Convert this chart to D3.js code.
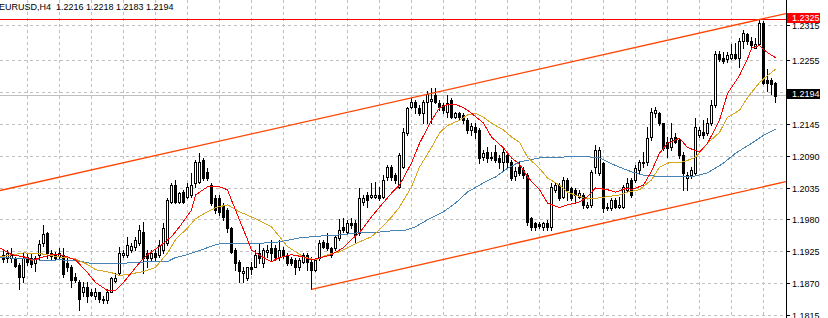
<!DOCTYPE html>
<html>
<head>
<meta charset="utf-8">
<script src="https://cdn.jsdelivr.net/npm/d3@7"></script>
<style>
  body { margin: 0; background: #fff; }
  svg { display: block; font-family: "Liberation Sans", Arial, sans-serif; }
</style>
</head>
<body>
<svg id="chart" width="828" height="318"></svg>
<script>
// EURUSD H4 bars (oldest first)
const opens = [
  1.1920,1.1915,1.1915,1.1913,1.1903,1.1882,1.1916,1.1915,1.1906,1.1920,
  1.1940,1.1958,1.1918,1.1920,1.1918,1.1920,1.1906,1.1899,1.1882,1.1872,
  1.1856,1.1865,1.1855,1.1848,1.1855,1.1844,1.1841,1.1856,1.1875,1.1889,
  1.1920,1.1920,1.1928,1.1934,1.1940,1.1959,1.1923,1.1915,1.1923,1.1920,
  1.1928,1.1940,1.2011,1.2040,1.2011,1.2028,1.2020,1.2023,1.2044,1.2045,
  1.2083,1.2063,1.2040,1.2018,1.2018,1.2006,1.1997,1.1966,1.1928,1.1908,
  1.1889,1.1880,1.1899,1.1899,1.1923,1.1906,1.1925,1.1932,1.1932,1.1916,
  1.1928,1.1920,1.1913,1.1911,1.1898,1.1908,1.1920,1.1908,1.1894,1.1915,
  1.1942,1.1940,1.1932,1.1932,1.1949,1.1968,1.1959,1.1975,1.1975,1.1958,
  1.2011,1.2023,1.2020,1.2020,1.2023,1.2020,1.2054,1.2071,1.2057,1.2037,
  1.2071,1.2130,1.2174,1.2183,1.2173,1.2164,1.2183,1.2185,1.2195,1.2181,
  1.2178,1.2166,1.2186,1.2157,1.2164,1.2161,1.2152,1.2135,1.2140,1.2135,
  1.2088,1.2097,1.2087,1.2097,1.2087,1.2080,1.2092,1.2080,1.2056,1.2071,
  1.2066,1.2057,1.1983,1.1975,1.1973,1.1968,1.1975,1.1968,1.2032,1.2040,
  1.2020,1.2049,1.2035,1.2032,1.2020,1.2023,1.2002,1.2006,1.2071,1.2061,
  1.2078,1.2001,1.2001,1.2014,1.2002,1.2002,1.2032,1.2049,1.2049,1.2066,
  1.2078,1.2080,1.2123,1.2164,1.2164,1.2147,1.2114,1.2105,1.2123,1.2118,
  1.2092,1.2052,1.2057,1.2061,1.2126,1.2131,1.2130,1.2147,1.2178,1.2267,
  1.2260,1.2258,1.2260,1.2267,1.2260,1.2289,1.2301,1.2289,1.2277,1.2284,
  1.2320,1.2221,1.2221,1.2216
];
const highs = [
  1.1928,1.1928,1.1932,1.1916,1.1906,1.1923,1.1922,1.1923,1.1918,1.1946,
  1.1971,1.1959,1.1928,1.1925,1.1932,1.1932,1.1915,1.1903,1.1889,1.1877,
  1.1872,1.1872,1.1860,1.1863,1.1856,1.1848,1.1860,1.1882,1.1889,1.1934,
  1.1928,1.1951,1.1940,1.1951,1.1971,1.1977,1.1928,1.1928,1.1928,1.1946,
  1.1975,1.2018,1.2044,1.2049,1.2028,1.2032,1.2044,1.2061,1.2083,1.2095,
  1.2087,1.2069,1.2044,1.2023,1.2023,1.2009,1.2001,1.1968,1.1932,1.1911,
  1.1898,1.1899,1.1908,1.1928,1.1940,1.1932,1.1937,1.1946,1.1937,1.1946,
  1.1934,1.1923,1.1916,1.1915,1.1915,1.1923,1.1923,1.1916,1.1915,1.1946,
  1.1946,1.1958,1.1934,1.1954,1.1982,1.1983,1.1980,1.1983,1.1980,1.2035,
  1.2023,1.2028,1.2044,1.2045,1.2037,1.2057,1.2075,1.2075,1.2061,1.2095,
  1.2138,1.2174,1.2190,1.2186,1.2178,1.2186,1.2203,1.2207,1.2207,1.2186,
  1.2181,1.2195,1.2190,1.2166,1.2166,1.2164,1.2155,1.2147,1.2147,1.2138,
  1.2100,1.2105,1.2097,1.2109,1.2092,1.2104,1.2097,1.2083,1.2071,1.2080,
  1.2071,1.2061,1.1985,1.1977,1.1977,1.1977,1.1980,1.2044,1.2044,1.2044,
  1.2054,1.2052,1.2037,1.2035,1.2032,1.2026,1.2011,1.2066,1.2109,1.2105,
  1.2080,1.2009,1.2018,1.2018,1.2020,1.2040,1.2052,1.2052,1.2075,1.2083,
  1.2097,1.2140,1.2173,1.2174,1.2166,1.2148,1.2123,1.2147,1.2130,1.2121,
  1.2097,1.2063,1.2071,1.2155,1.2140,1.2152,1.2155,1.2186,1.2272,1.2272,
  1.2269,1.2269,1.2284,1.2286,1.2293,1.2307,1.2303,1.2295,1.2293,1.2325,
  1.2324,1.2241,1.2224,1.2218
];
const lows = [
  1.1908,1.1908,1.1908,1.1898,1.1860,1.1872,1.1903,1.1899,1.1891,1.1911,
  1.1935,1.1915,1.1911,1.1910,1.1915,1.1882,1.1891,1.1865,1.1872,1.1824,
  1.1848,1.1839,1.1848,1.1843,1.1839,1.1837,1.1837,1.1855,1.1873,1.1886,
  1.1916,1.1916,1.1925,1.1928,1.1937,1.1889,1.1899,1.1911,1.1911,1.1916,
  1.1923,1.1937,1.2009,1.2009,1.2009,1.2009,1.2018,1.2020,1.2037,1.2044,
  1.2049,1.2049,1.2006,1.1992,1.1989,1.1980,1.1959,1.1923,1.1894,1.1873,
  1.1872,1.1877,1.1886,1.1898,1.1906,1.1899,1.1916,1.1911,1.1911,1.1911,
  1.1915,1.1903,1.1903,1.1886,1.1894,1.1906,1.1894,1.1860,1.1891,1.1911,
  1.1932,1.1928,1.1916,1.1928,1.1946,1.1959,1.1958,1.1966,1.1940,1.1954,
  1.2006,1.2002,1.2018,1.2018,1.2014,1.2018,1.2049,1.2049,1.2044,1.2035,
  1.2069,1.2126,1.2173,1.2164,1.2161,1.2148,1.2147,1.2147,1.2181,1.2169,
  1.2164,1.2157,1.2155,1.2155,1.2152,1.2147,1.2130,1.2126,1.2121,1.2078,
  1.2083,1.2080,1.2083,1.2080,1.2069,1.2066,1.2071,1.2049,1.2049,1.2057,
  1.2052,1.1971,1.1963,1.1963,1.1966,1.1963,1.1963,1.1963,1.2028,1.2014,
  1.2018,1.2014,1.2014,1.2009,1.2018,1.2001,1.2001,1.2002,1.2061,1.2057,
  1.1994,1.1997,1.1997,1.2001,1.2001,1.2001,1.2028,1.2020,1.2045,1.2061,
  1.2071,1.2075,1.2118,1.2157,1.2143,1.2100,1.2088,1.2100,1.2112,1.2087,
  1.2032,1.2032,1.2052,1.2057,1.2123,1.2121,1.2126,1.2143,1.2174,1.2255,
  1.2250,1.2252,1.2258,1.2258,1.2243,1.2276,1.2284,1.2277,1.2276,1.2281,
  1.2215,1.2203,1.2198,1.2183
];
const closes = [
  1.1913,1.1922,1.1920,1.1901,1.1882,1.1915,1.1908,1.1904,1.1915,1.1939,
  1.1956,1.1923,1.1922,1.1915,1.1923,1.1886,1.1899,1.1877,1.1877,1.1843,
  1.1865,1.1848,1.1851,1.1855,1.1843,1.1841,1.1856,1.1879,1.1880,1.1923,
  1.1923,1.1937,1.1935,1.1946,1.1963,1.1915,1.1915,1.1923,1.1916,1.1937,
  1.1966,1.2014,1.2040,1.2011,1.2026,1.2011,1.2037,1.2040,1.2080,1.2080,
  1.2052,1.2052,1.2009,1.1997,1.1994,1.1985,1.1966,1.1925,1.1906,1.1891,
  1.1892,1.1898,1.1896,1.1920,1.1915,1.1928,1.1928,1.1923,1.1916,1.1928,
  1.1920,1.1906,1.1906,1.1898,1.1911,1.1920,1.1908,1.1894,1.1911,1.1940,
  1.1934,1.1932,1.1920,1.1951,1.1963,1.1963,1.1975,1.1971,1.1954,1.2018,
  1.2018,1.2014,1.2023,1.2023,1.2018,1.2049,1.2071,1.2054,1.2049,1.2092,
  1.2131,1.2173,1.2183,1.2174,1.2164,1.2183,1.2198,1.2188,1.2183,1.2174,
  1.2169,1.2181,1.2157,1.2164,1.2157,1.2152,1.2135,1.2142,1.2131,1.2087,
  1.2095,1.2087,1.2088,1.2083,1.2080,1.2097,1.2080,1.2052,1.2064,1.2061,
  1.2057,1.1977,1.1968,1.1968,1.1970,1.1975,1.1968,1.2037,1.2040,1.2018,
  1.2049,1.2032,1.2018,1.2023,1.2026,1.2006,1.2006,1.2063,1.2100,1.2100,
  1.2001,1.2002,1.2014,1.2002,1.2006,1.2037,1.2044,1.2023,1.2069,1.2080,
  1.2080,1.2121,1.2166,1.2169,1.2147,1.2104,1.2104,1.2121,1.2114,1.2092,
  1.2061,1.2057,1.2066,1.2140,1.2135,1.2126,1.2148,1.2178,1.2267,1.2258,
  1.2255,1.2264,1.2267,1.2260,1.2289,1.2303,1.2289,1.2281,1.2284,1.2320,
  1.2217,1.2217,1.2215,1.2194
];

// moving averages as drawn on the chart: [bar, price]
const maFast = [
  [-1,1.1932],[2,1.1920],[6,1.1915],[7,1.1910],[10,1.1916],[12,1.1920],[14,1.1920],
  [16,1.1916],[18,1.1911],[21,1.1889],[23,1.1872],[26,1.1858],[28,1.1858],[30,1.1872],
  [32,1.1889],[34,1.1906],[36,1.1920],[39,1.1934],[42,1.1951],[44,1.1968],[47,1.1997],
  [48,1.2023],[51,1.2037],[52,1.2038],[54,1.2037],[56,1.2032],[57,1.2014],[59,1.1980],
  [61,1.1946],[62,1.1928],[65,1.1915],[67,1.1908],[69,1.1915],[72,1.1920],[75,1.1916],
  [77,1.1911],[80,1.1916],[82,1.1920],[85,1.1932],[87,1.1946],[89,1.1958],[92,1.1985],
  [94,1.2002],[97,1.2026],[99,1.2040],[102,1.2078],[104,1.2112],[107,1.2152],[109,1.2173],
  [111,1.2179],[113,1.2179],[115,1.2174],[117,1.2164],[120,1.2147],[122,1.2123],[125,1.2104],
  [127,1.2087],[129,1.2076],[131,1.2054],[134,1.2032],[136,1.2009],[139,1.2001],[141,1.2006],
  [144,1.2011],[146,1.2020],[148,1.2035],[151,1.2032],[153,1.2028],[156,1.2035],[157,1.2032],
  [160,1.2040],[162,1.2064],[164,1.2095],[166,1.2112],[169,1.2121],[171,1.2105],[174,1.2097],
  [176,1.2112],[179,1.2152],[181,1.2198],[184,1.2229],[186,1.2258],[187,1.2276],[189,1.2281],
  [190,1.2274],[192,1.2264],[193,1.2260]
];
const maMid = [
  [-1,1.1916],[5,1.1923],[9,1.1922],[14,1.1916],[18,1.1913],[21,1.1903],[23,1.1894],
  [27,1.1889],[29,1.1884],[32,1.1887],[35,1.1891],[38,1.1898],[41,1.1923],[43,1.1946],
  [46,1.1966],[48,1.1982],[51,1.1994],[53,1.2001],[56,1.2006],[57,1.2002],[59,1.1994],
  [62,1.1985],[65,1.1975],[67,1.1968],[69,1.1951],[71,1.1934],[75,1.1916],[78,1.1911],
  [81,1.1920],[84,1.1925],[86,1.1932],[89,1.1942],[92,1.1951],[94,1.1963],[97,1.1985],
  [99,1.2002],[102,1.2037],[104,1.2071],[107,1.2105],[109,1.2130],[111,1.2143],[114,1.2152],
  [116,1.2161],[118,1.2164],[120,1.2157],[122,1.2147],[125,1.2135],[127,1.2123],[129,1.2114],
  [131,1.2088],[134,1.2069],[136,1.2052],[139,1.2040],[141,1.2028],[144,1.2020],[146,1.2016],
  [149,1.2018],[151,1.2020],[154,1.2023],[156,1.2028],[159,1.2032],[162,1.2049],[164,1.2071],
  [166,1.2078],[170,1.2080],[173,1.2088],[176,1.2112],[179,1.2131],[181,1.2157],[184,1.2169],
  [186,1.2191],[189,1.2217],[191,1.2229],[193,1.2240]
];
const maSlow = [
  [-1,1.1915],[6,1.1913],[10,1.1910],[14,1.1911],[18,1.1910],[21,1.1906],[23,1.1904],
  [27,1.1904],[32,1.1906],[37,1.1908],[41,1.1908],[43,1.1915],[46,1.1920],[48,1.1925],
  [51,1.1932],[53,1.1937],[55,1.1940],[58,1.1940],[62,1.1939],[65,1.1940],[69,1.1942],
  [74,1.1949],[79,1.1952],[84,1.1954],[89,1.1958],[94,1.1959],[97,1.1961],[100,1.1961],
  [103,1.1968],[106,1.1980],[110,1.1994],[113,1.2009],[116,1.2028],[120,1.2044],[123,1.2054],
  [126,1.2069],[129,1.2080],[134,1.2087],[139,1.2088],[144,1.2090],[149,1.2087],[151,1.2080],
  [154,1.2071],[157,1.2063],[160,1.2057],[162,1.2056],[167,1.2054],[172,1.2054],[176,1.2061],
  [180,1.2078],[183,1.2095],[187,1.2112],[190,1.2126],[193,1.2136]
];

// channel anchors [bar, price]
const channelUpper = [[0, 1.2032], [193, 1.2332]];
const channelLower = [[77, 1.1860], [193, 1.2042]];

const priceTicks = [1.2315, 1.2255, 1.2200, 1.2145, 1.2090, 1.2035, 1.1980, 1.1925, 1.1870, 1.1815];
const alertLevel = 1.2325;
const title = "EURUSD,H4  1.2216 1.2218 1.2183 1.2194";

const width = 828, height = 318;
const plotRight = 786;

const svg = d3.select("#chart");
svg.append("rect").attr("width", width).attr("height", height).attr("fill", "#fff");

const x = d3.scaleLinear().domain([0, 193]).range([3.5, 775.5]);
const y = d3.scaleLinear().domain([1.1815, 1.2255]).range([315.5, 60.5]);
const py = v => Math.floor(y(v)) + 0.5;

svg.append("defs").append("clipPath").attr("id", "plot")
  .append("rect").attr("x", 0).attr("y", 0).attr("width", plotRight).attr("height", height);

const plot = svg.append("g").attr("clip-path", "url(#plot)");

// grid
plot.append("g").selectAll("line")
  .data(priceTicks)
  .join("line")
  .attr("x1", 0).attr("x2", plotRight)
  .attr("y1", d => py(d)).attr("y2", d => py(d))
  .attr("stroke", "#c0c0c0")
  .attr("stroke-dasharray", "3,3")
  .attr("shape-rendering", "crispEdges");

const gridBars = d3.range(6, 194, 8);
plot.append("g").selectAll("line")
  .data(gridBars)
  .join("line")
  .attr("x1", d => x(d)).attr("x2", d => x(d))
  .attr("y1", 0).attr("y2", height)
  .attr("stroke", "#c0c0c0")
  .attr("stroke-dasharray", "3,3")
  .attr("shape-rendering", "crispEdges");

// bid line and alert line
const lastClose = closes[closes.length - 1];
plot.append("line")
  .attr("x1", 0).attr("x2", plotRight)
  .attr("y1", py(lastClose)).attr("y2", py(lastClose))
  .attr("stroke", "#c0c0c0")
  .attr("shape-rendering", "crispEdges");

plot.append("line")
  .attr("x1", 0).attr("x2", plotRight)
  .attr("y1", py(alertLevel)).attr("y2", py(alertLevel))
  .attr("stroke", "#ff0000")
  .attr("shape-rendering", "crispEdges");

// candles
const bars = d3.range(closes.length);
const candles = plot.append("g");

candles.selectAll("line.wick")
  .data(bars)
  .join("line")
  .attr("class", "wick")
  .attr("x1", i => x(i)).attr("x2", i => x(i))
  .attr("y1", i => Math.round(y(highs[i])))
  .attr("y2", i => Math.round(y(lows[i])) + 1)
  .attr("stroke", "#000")
  .attr("shape-rendering", "crispEdges");

candles.selectAll("rect.body")
  .data(bars)
  .join("rect")
  .attr("class", "body")
  .attr("x", i => x(i) - 1)
  .attr("width", 2)
  .attr("y", i => Math.round(y(Math.max(opens[i], closes[i]))) + 0.5)
  .attr("height", i => Math.max(1, Math.round(y(Math.min(opens[i], closes[i]))) - Math.round(y(Math.max(opens[i], closes[i])))))
  .attr("fill", i => closes[i] >= opens[i] ? "#fff" : "#000")
  .attr("stroke", "#000")
  .attr("shape-rendering", "crispEdges");

// moving averages (aliased like the terminal draws them)
const maLine = d3.line().x(d => x(d[0])).y(d => y(d[1]));
[[maSlow, "#4682b4"], [maMid, "#daa520"], [maFast, "#ff0000"]].forEach(([data, color]) => {
  plot.append("path")
    .attr("d", maLine(data))
    .attr("fill", "none")
    .attr("stroke", color)
    .attr("stroke-width", 1)
    .attr("shape-rendering", "crispEdges");
});

// channel lines, extended to the price scale
function extend(pts, fromLeft) {
  const [a, b] = pts;
  const slope = (b[1] - a[1]) / (b[0] - a[0]);
  const endBar = x.invert(plotRight);
  const startBar = fromLeft ? x.invert(0) : a[0];
  return [[startBar, a[1] + slope * (startBar - a[0])], [endBar, a[1] + slope * (endBar - a[0])]];
}
[extend(channelUpper, true), extend(channelLower, false)].forEach(seg => {
  plot.append("path")
    .attr("d", maLine(seg))
    .attr("fill", "none")
    .attr("stroke", "#ff4500")
    .attr("stroke-width", 1.3);
});

// price scale
svg.append("line")
  .attr("x1", plotRight + 0.5).attr("x2", plotRight + 0.5)
  .attr("y1", 0).attr("y2", height)
  .attr("stroke", "#000")
  .attr("shape-rendering", "crispEdges");

const ticks = svg.append("g");
ticks.selectAll("line")
  .data(priceTicks)
  .join("line")
  .attr("x1", plotRight).attr("x2", plotRight + 4)
  .attr("y1", d => py(d)).attr("y2", d => py(d))
  .attr("stroke", "#000")
  .attr("shape-rendering", "crispEdges");

ticks.selectAll("text")
  .data(priceTicks)
  .join("text")
  .attr("x", 792)
  .attr("y", d => py(d))
  .attr("dy", "0.35em")
  .attr("font-size", 9)
  .attr("fill", "#000")
  .text(d => d3.format(".4f")(d));

// price labels
function priceBox(v, bg) {
  const cy = py(v) - 1.5;
  svg.append("rect")
    .attr("x", plotRight + 1).attr("y", Math.round(cy - 5))
    .attr("width", 33).attr("height", 10)
    .attr("fill", bg);
  svg.append("text")
    .attr("x", 792).attr("y", cy)
    .attr("dy", "0.35em")
    .attr("font-size", 9)
    .attr("fill", "#fff")
    .text(d3.format(".4f")(v));
}
priceBox(alertLevel, "#ff0000");
priceBox(lastClose, "#000");

// title
svg.append("text")
  .attr("x", -1).attr("y", 9.5)
  .attr("font-size", 9)
  .attr("fill", "#000")
  .style("white-space", "pre")
  .text(title);
</script>
</body>
</html>
